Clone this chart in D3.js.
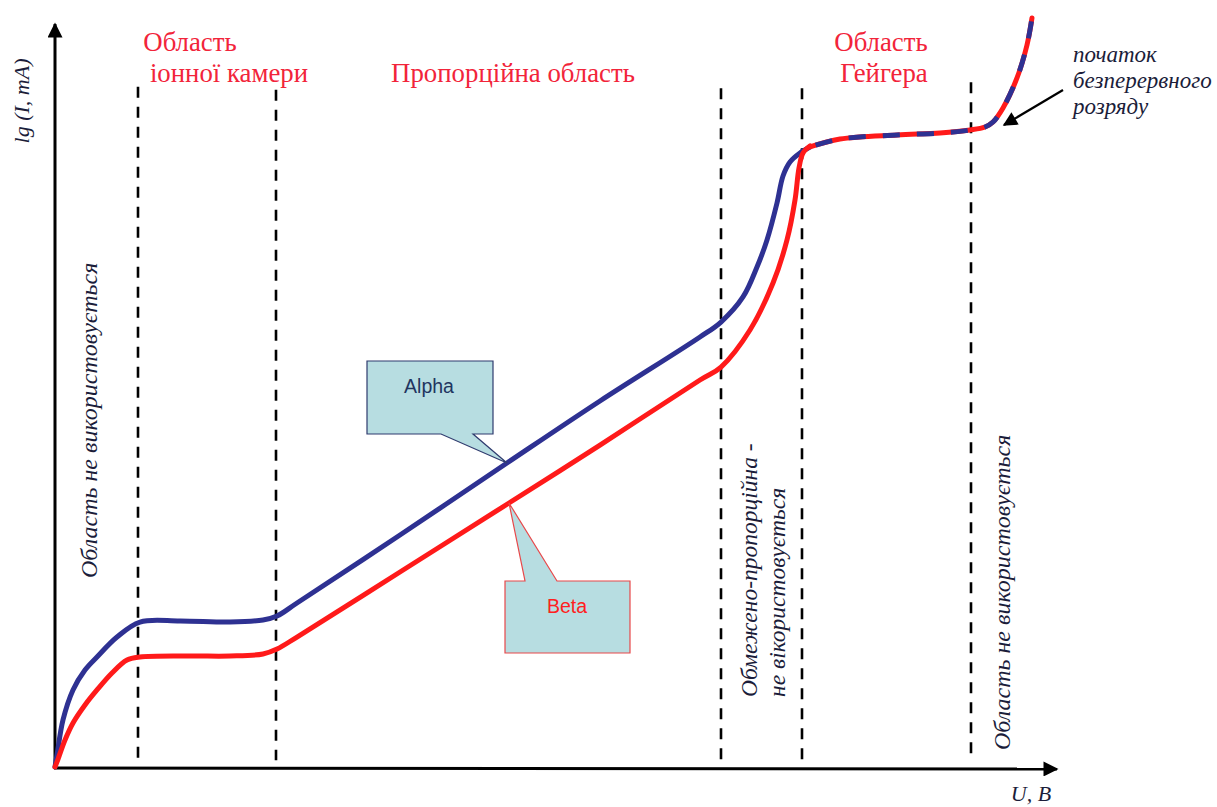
<!DOCTYPE html>
<html>
<head>
<meta charset="utf-8">
<script src="https://cdn.jsdelivr.net/npm/d3@7"></script>
<style>
  html, body { margin: 0; padding: 0; background: #fff; }
  svg { display: block; }
</style>
</head>
<body>
<svg id="chart" width="1217" height="807"></svg>
<script>
// ---- data (x: U in arbitrary units 0..100, y: lg I in arbitrary units 0..100) ----
const alphaX = [0, 0.2, 0.8, 1.8, 3.0, 4.2, 6.2, 8.5, 12.5, 17.5, 20.8, 22.2, 24.2, 34.5, 45.2, 54.5, 64.5, 66.6, 68.8, 70.2, 71.2, 72.2, 72.8, 73.5, 74.5, 75.5];
const alphaY = [0, 1.6, 6.27, 10.27, 12.93, 14.67, 17.33, 19.33, 19.47, 19.33, 19.6, 20.13, 21.87, 30.93, 40.53, 48.8, 57.33, 59.33, 62.67, 66.67, 70.27, 75.2, 78.8, 80.67, 81.87, 82.67];

const betaX = [0, 0.2, 1.0, 1.8, 3.0, 4.2, 5.7, 7.2, 8.5, 13.5, 17.5, 20.8, 22.2, 24.2, 34.5, 45.4, 54.5, 64.5, 66.6, 69.5, 71.8, 73.2, 74.0, 74.4, 74.8, 75.5];
const betaY = [0, 0.67, 3.6, 5.87, 8.27, 10.27, 12.53, 14.27, 14.67, 14.8, 14.8, 15.07, 15.73, 17.33, 26.0, 35.2, 42.93, 51.6, 53.33, 58.27, 64.53, 70.27, 75.6, 79.87, 81.87, 82.8];

// Geiger region + continuous discharge: both curves coincide
const sharedX = [75.5, 78.5, 84.2, 88.5, 91.5, 93.0, 93.8, 94.8, 96.2, 97.2, 97.7];
const sharedY = [82.67, 83.73, 84.27, 84.53, 84.93, 85.33, 86.0, 87.87, 91.87, 96.27, 99.87];

// region boundaries (x) and top of each dashed line (y)
const boundaryX = [8.3, 22.1, 66.6, 74.7, 91.6];
const boundaryTop = [90.7, 90.3, 90.5, 90.5, 91.3];

// callout anchor points on the curves
const alphaLabel = "Alpha";
const betaLabel = "Beta";
const alphaAnchor = [45.2, 40.53];
const betaAnchor = [45.4, 35.2];

const regionTitles = [
  { lines: ["Область", "іонної камери"], cx: [190, 229] },
  { lines: ["", "Пропорційна область"], cx: [0, 513] },
  { lines: ["Область", "Гейгера"], cx: [881, 884] }
];
const axisYLabel = "lg (I, mA)";
const axisXLabel = "U, B";
const dischargeNote = ["початок", "безперервного", "розряду"];

// ---- drawing ----
const svg = d3.select("#chart");
const x = d3.scaleLinear().domain([0, 100]).range([55, 1055]);
const y = d3.scaleLinear().domain([0, 100]).range([767, 17]);

const RED = "#ff1a1a";
const BLUE = "#2e3192";
const TXT_RED = "#f2243a";
const INK = "#1b1d3a";

const defs = svg.append("defs");
defs.append("marker").attr("id", "ah").attr("viewBox", "0 0 10 10")
  .attr("refX", 9).attr("refY", 5).attr("markerWidth", 5.5).attr("markerHeight", 5)
  .attr("orient", "auto").attr("markerUnits", "strokeWidth")
  .append("path").attr("d", "M0,0 L10,5 L0,10 Z").attr("fill", "#000");
defs.append("marker").attr("id", "ah2").attr("viewBox", "0 0 10 10")
  .attr("refX", 9).attr("refY", 5).attr("markerWidth", 7.5).attr("markerHeight", 6.5)
  .attr("orient", "auto").attr("markerUnits", "strokeWidth")
  .append("path").attr("d", "M0,0 L10,5 L0,10 Z").attr("fill", "#000");

// dashed region boundaries
svg.append("g").selectAll("line").data(boundaryX).join("line")
  .attr("x1", d => x(d)).attr("x2", d => x(d))
  .attr("y1", (d, i) => y(boundaryTop[i])).attr("y2", y(0.9))
  .attr("stroke", "#000").attr("stroke-width", 2.6)
  .attr("stroke-dasharray", "11,9");

// axes
svg.append("line").attr("x1", x(0)).attr("y1", y(0) + 1).attr("x2", x(0)).attr("y2", 24)
  .attr("stroke", "#000").attr("stroke-width", 3).attr("marker-end", "url(#ah)");
svg.append("line").attr("x1", x(0) - 1).attr("y1", y(0) + 1).attr("x2", 1057).attr("y2", y(0) + 2)
  .attr("stroke", "#000").attr("stroke-width", 3).attr("marker-end", "url(#ah)");

// curves
const line = d3.line().x(d => x(d[0])).y(d => y(d[1])).curve(d3.curveCatmullRom.alpha(0.5));
const alphaPts = alphaX.map((v, i) => [v, alphaY[i]]);
const betaPts = betaX.map((v, i) => [v, betaY[i]]);
const sharedPts = sharedX.map((v, i) => [v, sharedY[i]]);

svg.append("path").attr("d", line(alphaPts)).attr("fill", "none")
  .attr("stroke", BLUE).attr("stroke-width", 5).attr("stroke-linecap", "round");
svg.append("path").attr("d", line(betaPts)).attr("fill", "none")
  .attr("stroke", RED).attr("stroke-width", 5).attr("stroke-linecap", "round");
svg.append("path").attr("d", line(sharedPts)).attr("fill", "none")
  .attr("stroke", RED).attr("stroke-width", 5).attr("stroke-linecap", "round");
svg.append("path").attr("d", line(sharedPts)).attr("fill", "none")
  .attr("stroke", BLUE).attr("stroke-width", 5).attr("stroke-dasharray", "17,17")
  .attr("stroke-dashoffset", -6);

// callouts
const FILL = "#b7dde1";
const at = x(alphaAnchor[0]), aty = y(alphaAnchor[1]);
svg.append("path")
  .attr("d", `M367,361 H493 V434 H473 L${at},${aty} L441,434 H367 Z`)
  .attr("fill", FILL).attr("stroke", "#2f3b6e").attr("stroke-width", 1.2);
svg.append("text").attr("x", 429).attr("y", 393).attr("text-anchor", "middle")
  .attr("font-family", "Liberation Sans, Arial, sans-serif").attr("font-size", 19.5)
  .attr("fill", "#1f3560").text(alphaLabel);

const bt = x(betaAnchor[0]), bty = y(betaAnchor[1]);
svg.append("path")
  .attr("d", `M505,581 H525 L${bt},${bty} L557,581 H630 V653 H505 Z`)
  .attr("fill", FILL).attr("stroke", "#e8484a").attr("stroke-width", 1.2);
svg.append("text").attr("x", 567).attr("y", 613).attr("text-anchor", "middle")
  .attr("font-family", "Liberation Sans, Arial, sans-serif").attr("font-size", 19.5)
  .attr("fill", "#ff2020").text(betaLabel);

// region titles
const serif = "Liberation Serif, 'Times New Roman', serif";
regionTitles.forEach(r => {
  r.lines.forEach((t, i) => {
    if (!t) return;
    svg.append("text").attr("x", r.cx[i]).attr("y", i === 0 ? 51 : 82)
      .attr("text-anchor", "middle").attr("font-family", serif).attr("font-size", 26.8)
      .attr("fill", TXT_RED).text(t);
  });
});

// rotated italic notes
function vtext(t, cx, yStart, size) {
  svg.append("text")
    .attr("transform", `translate(${cx},${yStart}) rotate(-90)`)
    .attr("font-family", serif).attr("font-style", "italic").attr("font-size", size)
    .attr("fill", INK).attr("dominant-baseline", "central").text(t);
}
vtext("Область не використовується", 89, 578, 24);
vtext("Обмежено-пропорційна -", 749, 697, 23.5);
vtext("не вікористовується", 777, 697, 23.5);
vtext("Область не використовується", 1002, 750, 24);

// axis labels
svg.append("text").attr("transform", "translate(29,101) rotate(-90)")
  .attr("text-anchor", "middle").attr("font-family", serif).attr("font-style", "italic")
  .attr("font-size", 22).attr("fill", INK).text(axisYLabel);
svg.append("text").attr("x", 1031).attr("y", 801).attr("text-anchor", "middle")
  .attr("font-family", serif).attr("font-style", "italic")
  .attr("font-size", 22).attr("fill", INK).text(axisXLabel);

// discharge note + arrow
dischargeNote.forEach((t, i) => {
  svg.append("text").attr("x", 1073).attr("y", 62 + i * 26)
    .attr("font-family", serif).attr("font-style", "italic").attr("font-size", 23)
    .attr("fill", INK).text(t);
});
svg.append("line").attr("x1", 1063).attr("y1", 90).attr("x2", 1004).attr("y2", 125)
  .attr("stroke", "#000").attr("stroke-width", 2.2).attr("marker-end", "url(#ah2)");
</script>
</body>
</html>
